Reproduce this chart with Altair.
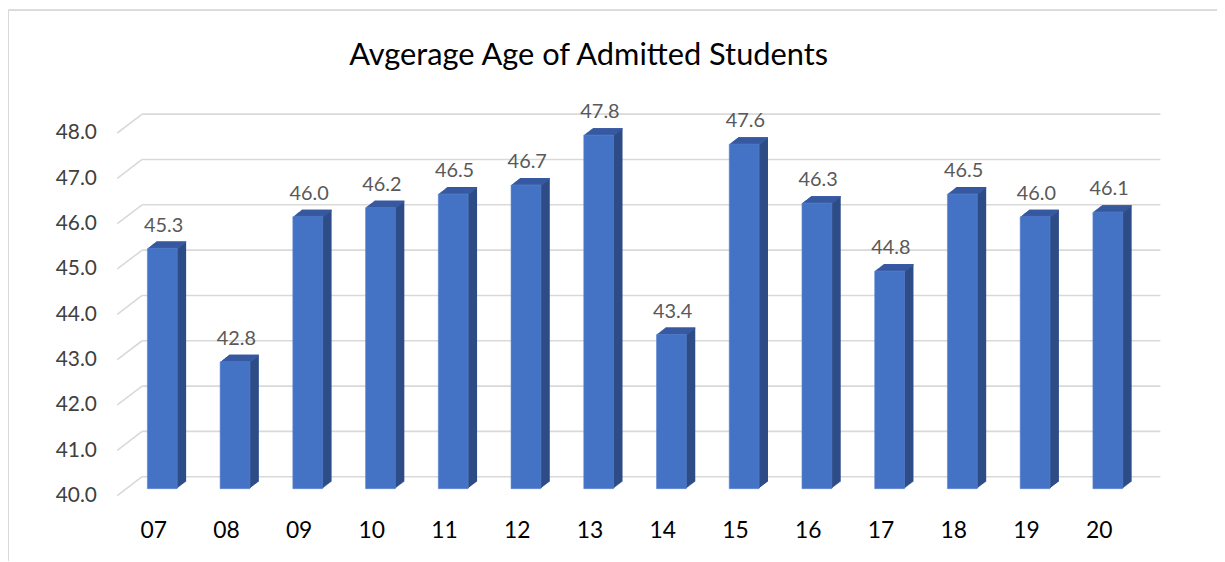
import altair as alt
import pandas as pd

years = ["07", "08", "09", "10", "11", "12", "13", "14", "15", "16", "17", "18", "19", "20"]
ages = [45.3, 42.8, 46.0, 46.2, 46.5, 46.7, 47.8, 43.4, 47.6, 46.3, 44.8, 46.5, 46.0, 46.1]
ticks = [40, 41, 42, 43, 44, 45, 46, 47, 48]
title_text = "Avgerage Age of Admitted Students"

FONT = "Lato"
FRONT = "#4472C4"
SIDE = "#2E4D87"
TOP = "#3A5DA8"
GRID = "#D9D9D9"

W, H = 1025, 365
DEPTH_X, DEPTH_Y = 25, 19
BAR_W = 30

bars = pd.DataFrame({"year": years, "age": ages})
grid = pd.DataFrame({"v": ticks})

yscale = alt.Scale(domain=[40, 48], zero=False, nice=False)
xscale = alt.Scale(domain=years, paddingInner=0, paddingOuter=0)
yaxis = alt.Axis(values=ticks, format=".1f", domain=False, ticks=False, grid=False,
                 labelPadding=21, labelFontSize=21, labelFont=FONT, labelColor="#404040", title=None)
xaxis = alt.Axis(domain=False, ticks=False, grid=False, labelAngle=0, labelPadding=24,
                 labelFontSize=23, labelFont=FONT, labelColor="#000000", title=None)

X = alt.X("year:N", scale=xscale, axis=xaxis, sort=years)
Y = alt.Y("age:Q", scale=yscale, axis=yaxis)

layers = []

# outer chart frame (left and top edges)
layers.append(alt.Chart(grid).mark_rule(stroke=GRID, strokeWidth=1).encode(
    x=alt.value(-109.5), y=alt.value(-123.5), y2=alt.value(H + 65)))
layers.append(alt.Chart(grid).mark_rule(stroke=GRID, strokeWidth=1).encode(
    x=alt.value(-109.5), x2=alt.value(W + 82), y=alt.value(-123.5)))

# side wall diagonals
layers.append(alt.Chart(grid).mark_rule(stroke=GRID, strokeWidth=1.6, y2Offset=-DEPTH_Y).encode(
    x=alt.value(0), x2=alt.value(DEPTH_X),
    y=alt.Y("v:Q", scale=yscale, axis=yaxis), y2=alt.Y2("v")))
# back wall gridlines
layers.append(alt.Chart(grid).mark_rule(stroke=GRID, strokeWidth=1.6, yOffset=-DEPTH_Y).encode(
    x=alt.value(DEPTH_X), x2=alt.value(W + DEPTH_X),
    y=alt.Y("v:Q", scale=yscale, axis=yaxis)))

base = alt.Chart(bars)
FX, FY = 8.7, -7.0
N = 9
for k in range(N, 0, -1):
    dx = FX + k
    dy = FY - 0.78 * k
    layers.append(base.mark_bar(width=BAR_W, color=SIDE, xOffset=dx, yOffset=dy, y2Offset=dy).encode(
        x=X, y=Y, y2=alt.datum(40)))
    layers.append(base.mark_bar(width=BAR_W, color=TOP, xOffset=dx, yOffset=dy, y2Offset=dy + 1.4).encode(
        x=X, y=Y, y2=alt.Y2("age")))

# front faces
layers.append(base.mark_bar(width=BAR_W, color=FRONT, xOffset=FX, yOffset=FY, y2Offset=FY,
                            stroke="#5B86D0", strokeWidth=0.6).encode(
    x=X, y=Y, y2=alt.datum(40)))

# value labels
layers.append(base.mark_text(font=FONT, fontSize=20, color="#595959", baseline="alphabetic",
                             align="center", xOffset=10, yOffset=-24).encode(
    x=X, y=Y, text=alt.Text("age:Q", format=".1f")))

# title
layers.append(alt.Chart(pd.DataFrame({"t": [title_text]})).mark_text(
    font=FONT, fontSize=31, color="#000000", baseline="alphabetic", align="center").encode(
    x=alt.value(474.5), y=alt.value(-68), text="t:N"))

chart = alt.layer(*layers).properties(
    width=W, height=H,
    autosize=alt.AutoSizeParams(type="none"),
    padding={"left": 110, "top": 124, "right": 82, "bottom": 65},
    background="white",
).configure_view(stroke=None)

chart.save("out.html", embed_options={"renderer": "svg", "actions": False})
